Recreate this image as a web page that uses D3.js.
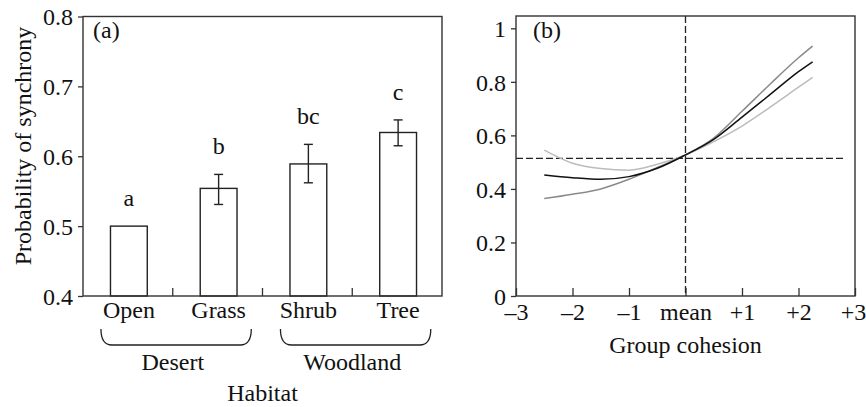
<!DOCTYPE html>
<html>
<head>
<meta charset="utf-8">
<script src="https://cdn.jsdelivr.net/npm/d3@7"></script>
<style>
  body { margin: 0; background: #fff; }
</style>
</head>
<body>
<svg id="chart" width="866" height="407"></svg>
<script>
// ---------- Panel (a) data ----------
const habitats = ["Open", "Grass", "Shrub", "Tree"];
const habitatMeans = [0.500, 0.554, 0.589, 0.634];
const habitatLower = [0.500, 0.531, 0.562, 0.615];
const habitatUpper = [0.500, 0.574, 0.617, 0.652];
const habitatLetters = ["a", "b", "bc", "c"];
const habitatGroups = [
  { name: "Desert", members: ["Open", "Grass"] },
  { name: "Woodland", members: ["Shrub", "Tree"] }
];
const yTicksA = [0.4, 0.5, 0.6, 0.7, 0.8];

// ---------- Panel (b) data ----------
const cohesionX = [-2.5, -2, -1.5, -1, -0.5, 0, 0.5, 1, 1.5, 2, 2.25];
const seriesBlack = [0.452, 0.442, 0.436, 0.446, 0.477, 0.527, 0.585, 0.668, 0.753, 0.838, 0.875];
const seriesLight = [0.545, 0.496, 0.476, 0.470, 0.492, 0.527, 0.577, 0.635, 0.706, 0.780, 0.817];
const seriesMid   = [0.364, 0.380, 0.400, 0.436, 0.480, 0.527, 0.590, 0.690, 0.792, 0.890, 0.934];
const xTicksB = [-3, -2, -1, 0, 1, 2, 3];
const xTickLabelsB = ["\u20133", "\u20132", "\u20131", "mean", "+1", "+2", "+3"];
const yTicksB = [0, 0.2, 0.4, 0.6, 0.8, 1];
const yTickLabelsB = ["0", "0.2", "0.4", "0.6", "0.8", "1"];
const refLevel = 0.514;
const refLineEnd = 2.82;

const svg = d3.select("#chart");
const frameColor = "#333";

// ================= Panel (a) =================
const A = { left: 83, right: 442, top: 16.5, bottom: 296 };
const xA = d3.scaleBand().domain(habitats).range([A.left, A.right]).padding(0);
const yA = d3.scaleLinear().domain([0.4, 0.8]).range([A.bottom, A.top]);
const gA = svg.append("g");

// bars
const barW = xA.bandwidth() * 0.41;
const barData = habitats.map((h, i) => ({ h, m: habitatMeans[i], lo: habitatLower[i], hi: habitatUpper[i], l: habitatLetters[i] }));
const cx = d => xA(d.h) + xA.bandwidth() / 2 + 1;
gA.selectAll("rect.bar").data(barData).join("rect")
  .attr("class", "bar")
  .attr("x", d => cx(d) - barW / 2)
  .attr("width", barW)
  .attr("y", d => yA(d.m))
  .attr("height", d => yA(0.4) - yA(d.m))
  .attr("fill", "#fff").attr("stroke", "#222").attr("stroke-width", 1.4);

// error bars
const eb = gA.selectAll("g.eb").data(barData.filter(d => d.hi > d.lo)).join("g").attr("class", "eb")
  .attr("stroke", "#222").attr("stroke-width", 1.4);
eb.append("line")
  .attr("x1", cx).attr("x2", cx)
  .attr("y1", d => yA(d.lo)).attr("y2", d => yA(d.hi));
eb.append("line")
  .attr("x1", d => cx(d) - 4.5).attr("x2", d => cx(d) + 4.5)
  .attr("y1", d => yA(d.hi)).attr("y2", d => yA(d.hi));
eb.append("line")
  .attr("x1", d => cx(d) - 4.5).attr("x2", d => cx(d) + 4.5)
  .attr("y1", d => yA(d.lo)).attr("y2", d => yA(d.lo));

// significance letters
gA.selectAll("text.letter").data(barData).join("text")
  .attr("class", "letter")
  .attr("x", cx)
  .attr("y", d => yA(d.hi) - 20)
  .attr("text-anchor", "middle")
  .text(d => d.l);

// y axis (a)
const axA = gA.append("g").attr("transform", `translate(${A.left},0)`)
  .call(d3.axisLeft(yA).tickValues(yTicksA).tickFormat(d3.format(".1f")).tickSizeInner(5).tickSizeOuter(0).tickPadding(5));
axA.select(".domain").remove();
axA.selectAll("line").attr("stroke", frameColor).attr("stroke-width", 1.3);
axA.selectAll("text").attr("dy", "0.34em");

// x axis (a): category labels + interior dividing ticks
const axXA = gA.append("g").attr("transform", `translate(0,${A.bottom})`)
  .call(d3.axisBottom(xA).tickSize(0).tickPadding(0));
axXA.select(".domain").remove();
axXA.selectAll("text").attr("y", 22).attr("dy", null).attr("dx", "1");
gA.selectAll("line.divider").data(habitats.slice(1)).join("line")
  .attr("class", "divider")
  .attr("x1", d => xA(d)).attr("x2", d => xA(d))
  .attr("y1", A.bottom).attr("y2", A.bottom - 8)
  .attr("stroke", frameColor).attr("stroke-width", 1.3);

// frame (a)
gA.append("rect").attr("x", A.left).attr("y", A.top)
  .attr("width", A.right - A.left).attr("height", A.bottom - A.top)
  .attr("fill", "none").attr("stroke", frameColor).attr("stroke-width", 1.4);

// braces + group labels
const braceTop = 329, braceBot = 345, braceR = 11;
habitatGroups.forEach(g => {
  const first = g.members[0], last = g.members[g.members.length - 1];
  const x1 = xA(first) + xA.bandwidth() * 0.2;
  const x2 = xA(last) + xA.bandwidth() * 0.875;
  const p = d3.path();
  p.moveTo(x1, braceTop);
  p.quadraticCurveTo(x1, braceBot, x1 + braceR, braceBot);
  p.lineTo(x2 - braceR, braceBot);
  p.quadraticCurveTo(x2, braceBot, x2, braceTop);
  gA.append("path").attr("d", p.toString()).attr("fill", "none").attr("stroke", "#222").attr("stroke-width", 1.3);
  gA.append("text").attr("x", xA(last)).attr("y", 370).attr("text-anchor", "middle").text(g.name);
});

gA.append("text").attr("x", (A.left + A.right) / 2).attr("y", 401).attr("text-anchor", "middle").text("Habitat");
gA.append("text").attr("transform", `translate(31,146) rotate(-90)`).attr("text-anchor", "middle").text("Probability of synchrony");
gA.append("text").attr("x", 93).attr("y", 38).text("(a)");

// ================= Panel (b) =================
const B = { left: 516, right: 855, top: 16, bottom: 296 };
const xB = d3.scaleLinear().domain([-3, 3]).range([B.left, B.right]);
const yB = d3.scaleLinear().domain([0, 1.046]).range([B.bottom, B.top]);
const gB = svg.append("g");

// y axis (b)
const axB = gB.append("g").attr("transform", `translate(${B.left},0)`)
  .call(d3.axisLeft(yB).tickValues(yTicksB).tickFormat((d, i) => yTickLabelsB[i]).tickSizeInner(5).tickSizeOuter(0).tickPadding(5));
axB.select(".domain").remove();
axB.selectAll("line").attr("stroke", frameColor).attr("stroke-width", 1.3);
axB.selectAll("text").attr("dy", "0.34em");

// x axis (b)
const axXB = gB.append("g").attr("transform", `translate(0,${B.bottom})`)
  .call(d3.axisBottom(xB).tickValues(xTicksB).tickFormat((d, i) => xTickLabelsB[i]).tickSizeInner(-8).tickSizeOuter(0).tickPadding(0));
axXB.select(".domain").remove();
axXB.selectAll("line").attr("stroke", frameColor).attr("stroke-width", 1.3);
axXB.selectAll("text").attr("y", 24).attr("dy", null);
axXB.selectAll("text").filter((d, i) => i === xTicksB.length - 1).attr("dx", -2);

// reference dashed lines
gB.append("line")
  .attr("x1", xB(0)).attr("x2", xB(0)).attr("y1", B.top).attr("y2", B.bottom)
  .attr("stroke", "#222").attr("stroke-width", 1.3).attr("stroke-dasharray", "7,3");
gB.append("line")
  .attr("x1", xB(-3)).attr("x2", xB(refLineEnd)).attr("y1", yB(refLevel)).attr("y2", yB(refLevel))
  .attr("stroke", "#222").attr("stroke-width", 1.3).attr("stroke-dasharray", "7,3");

// curves
const line = d3.line().x(d => xB(d[0])).y(d => yB(d[1])).curve(d3.curveMonotoneX);
const curves = [
  { vals: seriesLight, color: "#bcbcbc" },
  { vals: seriesMid, color: "#8a8a8a" },
  { vals: seriesBlack, color: "#111" }
];
curves.forEach(c => {
  gB.append("path").datum(cohesionX.map((x, i) => [x, c.vals[i]]))
    .attr("d", line).attr("fill", "none").attr("stroke", c.color).attr("stroke-width", 1.5);
});

// frame (b)
gB.append("rect").attr("x", B.left).attr("y", B.top)
  .attr("width", B.right - B.left).attr("height", B.bottom - B.top)
  .attr("fill", "none").attr("stroke", frameColor).attr("stroke-width", 1.4);

gB.append("text").attr("x", (B.left + B.right) / 2).attr("y", 353).attr("text-anchor", "middle").text("Group cohesion");
gB.append("text").attr("x", 533).attr("y", 38).text("(b)");

// typography for every text
svg.selectAll("g").attr("font-family", null).attr("font-size", null);
svg.selectAll("text")
  .attr("fill", "#111")
  .attr("font-size", 24)
  .style("font-family", '"Liberation Serif"');
</script>
</body>
</html>
